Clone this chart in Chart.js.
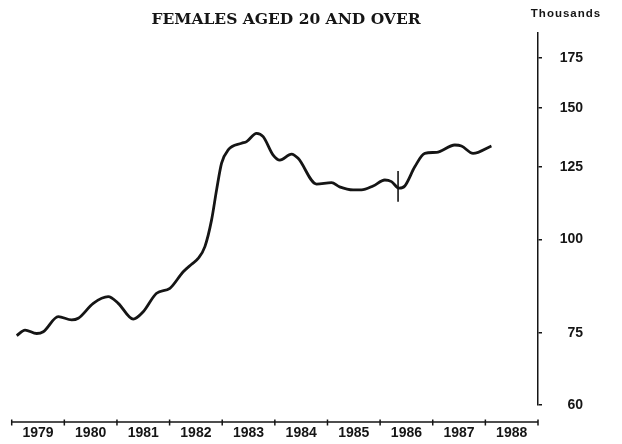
<!DOCTYPE html>
<html><head><meta charset="utf-8">
<script src="https://cdn.jsdelivr.net/npm/chart.js@4.4.1/dist/chart.umd.min.js"></script>
<style>html,body{margin:0;padding:0;background:#fff;}#wrap{width:622px;height:444px;}</style>
</head><body><div id="wrap"><canvas id="c" width="622" height="444"></canvas></div>
<script>
const chartTitle = 'FEMALES AGED 20 AND OVER';
const unitLabel = 'Thousands';
const yearLabels = [1979, 1980, 1981, 1982, 1983, 1984, 1985, 1986, 1987, 1988];
const yTickValues = [60, 75, 100, 125, 150, 175];
const dates = [1979.095, 1979.253, 1979.475, 1979.600, 1979.885, 1980.139, 1980.265, 1980.550, 1980.834, 1981.024,
  1981.309, 1981.499, 1981.753, 1982.006, 1982.259, 1982.424, 1982.543, 1982.671, 1982.798, 1982.893,
  1982.988, 1983.113, 1983.368, 1983.463, 1983.652, 1983.778, 1983.968, 1984.095, 1984.317, 1984.442,
  1984.792, 1985.077, 1985.230, 1985.487, 1985.646, 1985.867, 1986.089, 1986.216, 1986.360, 1986.469,
  1986.659, 1986.849, 1987.071, 1987.419, 1987.545, 1987.766, 1988.115];
const values = [74.3, 75.6, 74.8, 75.2, 78.8, 78.0, 78.4, 82.1, 83.8, 82.1,
  78.2, 80.0, 84.7, 86.0, 90.5, 92.7, 94.3, 97.8, 106.2, 116.5,
  126.5, 131.8, 134.5, 135.2, 138.7, 137.3, 129.7, 127.7, 130.1, 128.4,
  118.6, 119.1, 117.6, 116.5, 116.5, 117.9, 120.1, 119.5, 117.1, 117.9,
  125.1, 130.4, 130.8, 133.8, 133.4, 130.4, 133.4];
const breakDates = [1986.341, 1986.341];
const breakValues = [112.3, 123.5];

const ink = '#151515';

const decor = {
  id: 'decor',
  afterDraw(chart) {
    const ctx = chart.ctx;
    const xs = chart.scales.x;
    ctx.save();
    ctx.fillStyle = ink;
    ctx.textAlign = 'center';
    ctx.textBaseline = 'middle';
    ctx.font = 'bold 15.5px "DejaVu Serif"';
    ctx.fillText(chartTitle, 286, 20);
    ctx.font = 'bold 11.5px "Liberation Sans"';
    ctx.letterSpacing = '1px';
    ctx.fillText(unitLabel, 566, 14);
    ctx.letterSpacing = '0px';
    // offset time axis
    const yAx = 422;
    const x0 = xs.getPixelForValue(yearLabels[0]);
    const x1 = xs.getPixelForValue(yearLabels[yearLabels.length - 1] + 1);
    ctx.strokeStyle = ink;
    ctx.lineWidth = 1.5;
    ctx.beginPath();
    ctx.moveTo(x0, yAx);
    ctx.lineTo(x1, yAx);
    const bounds = yearLabels.concat([yearLabels[yearLabels.length - 1] + 1]);
    bounds.forEach(b => {
      const px = xs.getPixelForValue(b);
      ctx.moveTo(px, yAx - 2.5);
      ctx.lineTo(px, yAx + 3.5);
    });
    ctx.stroke();
    ctx.restore();
  }
};

new Chart(document.getElementById('c'), {
  type: 'line',
  data: {
    datasets: [{
      data: dates.map((d, i) => ({x: d, y: values[i]})),
      borderColor: ink,
      borderWidth: 2.8,
      pointRadius: 0,
      cubicInterpolationMode: 'monotone',
      fill: false
    }, {
      data: breakDates.map((d, i) => ({x: d, y: breakValues[i]})),
      borderColor: ink,
      borderWidth: 1.6,
      pointRadius: 0,
      fill: false
    }]
  },
  options: {
    responsive: false,
    animation: false,
    devicePixelRatio: 1,
    layout: {padding: {left: 11.7, right: 39, top: 33, bottom: 0}},
    plugins: {legend: {display: false}, title: {display: false}, tooltip: {enabled: false}},
    scales: {
      x: {
        type: 'linear',
        position: 'bottom',
        min: yearLabels[0],
        max: yearLabels[yearLabels.length - 1] + 1,
        grid: {display: false, drawTicks: false},
        border: {display: false},
        afterBuildTicks: s => { s.ticks = yearLabels.map(y => ({value: y + 0.5})); },
        afterFit: s => { s.height = 39; },
        ticks: {
          autoSkip: false, maxRotation: 0, padding: 20,
          color: ink,
          font: {family: '"Liberation Sans"', size: 14, weight: 'bold'},
          callback: v => String(Math.floor(v))
        }
      },
      y: {
        type: 'logarithmic',
        position: 'right',
        min: 60,
        max: 189,
        grid: {drawOnChartArea: false, drawTicks: true, tickLength: 4, color: ink, lineWidth: 1.5},
        border: {display: true, color: ink, width: 1.5},
        afterBuildTicks: s => { s.ticks = yTickValues.map(v => ({value: v})); },
        afterFit: s => { s.width = 45; },
        ticks: {
          crossAlign: 'far', padding: 6,
          color: ink,
          font: {family: '"Liberation Sans"', size: 14, weight: 'bold'},
          callback: v => String(v)
        }
      }
    }
  },
  plugins: [decor]
});
</script></body></html>
